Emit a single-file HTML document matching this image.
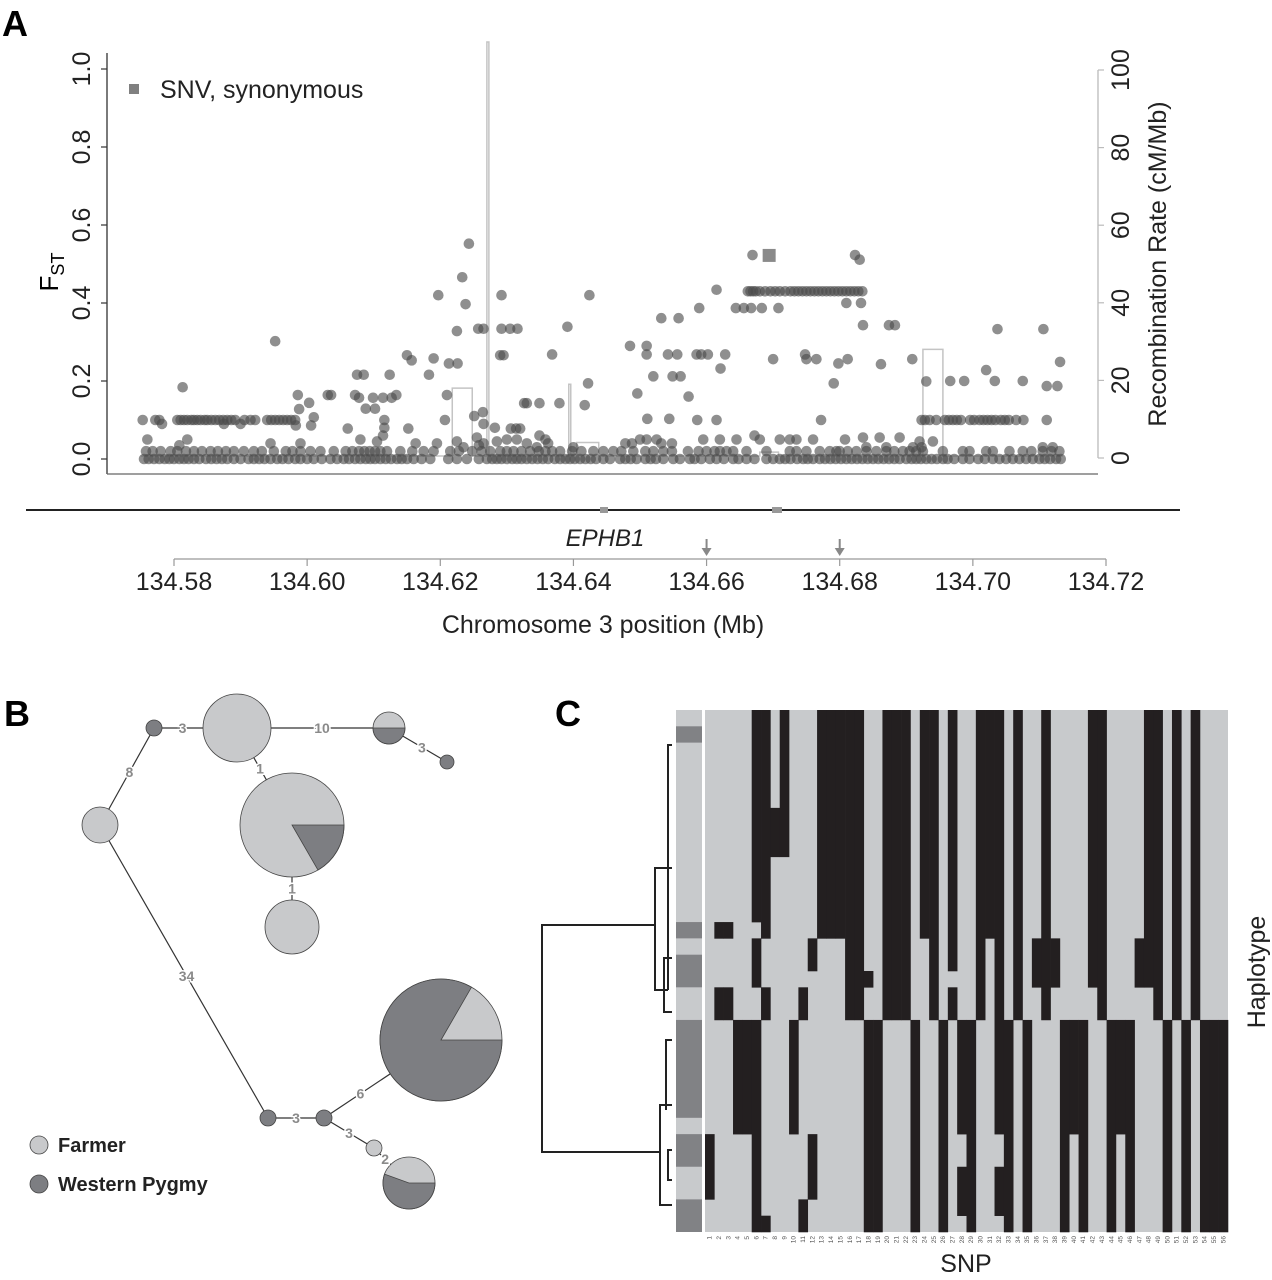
<!DOCTYPE html>
<html><head><meta charset="utf-8"><style>
html,body{margin:0;padding:0;background:#fff;}
svg{display:block;font-family:"Liberation Sans",Arial,sans-serif;}
</style></head><body>
<svg id="fig" width="1272" height="1280" viewBox="0 0 1272 1280" xmlns="http://www.w3.org/2000/svg">
<g id="panelA">
<text x="2" y="36" font-size="36" font-weight="bold">A</text>
<line x1="107" y1="53" x2="107" y2="474" stroke="#333" stroke-width="1.3"/>
<line x1="107" y1="474" x2="1098" y2="474" stroke="#666" stroke-width="1.3"/>
<line x1="1098" y1="70" x2="1098" y2="458" stroke="#bbb" stroke-width="1.3"/>
<text transform="translate(58,272) rotate(-90)" font-size="26" text-anchor="middle">F<tspan font-size="18" dy="6">ST</tspan></text>
<text transform="translate(1166,264) rotate(-90)" font-size="25" text-anchor="middle" fill="#222">Recombination Rate (cM/Mb)</text>
<rect x="129" y="84" width="10" height="10" fill="#808080"/>
<text x="160" y="98" font-size="25" fill="#222">SNV, synonymous</text>
<g id="recLine"></g>
<g id="ptsA"></g>
<g id="ticksA"></g>
<line x1="26" y1="510" x2="1180" y2="510" stroke="#222" stroke-width="2"/>
<rect x="600" y="507" width="8" height="6" fill="#999"/>
<rect x="772" y="507" width="10" height="6" fill="#999"/>
<text x="605" y="546" font-size="24" font-style="italic" text-anchor="middle" fill="#222">EPHB1</text>
<g id="arrowsA"></g>
<line x1="174" y1="559" x2="1106" y2="559" stroke="#999" stroke-width="1.3"/>
<text x="603" y="633" font-size="25" text-anchor="middle" fill="#222">Chromosome 3 position (Mb)</text>
</g>
<g id="panelB">
<text x="4" y="726" font-size="36" font-weight="bold">B</text>
<g id="edgesB"></g>
<g id="nodesB"></g>
<g id="elabB"></g>
<circle cx="39" cy="1145" r="9" fill="#c8c9cb" stroke="#444" stroke-width="0.8"/>
<text x="58" y="1152" font-size="20" font-weight="bold" fill="#222">Farmer</text>
<circle cx="39" cy="1184" r="9" fill="#7d7e82" stroke="#444" stroke-width="0.8"/>
<text x="58" y="1191" font-size="20" font-weight="bold" fill="#222">Western Pygmy</text>
</g>
<g id="panelC">
<text x="555" y="726" font-size="36" font-weight="bold">C</text>
<g id="dendro" stroke="#222" stroke-width="2" fill="none">
<polyline points="655,925 542,925 542,1152 660,1152"/>
<polyline points="668,868 655,868 655,990 668,990"/>
<polyline points="672,745 668,745 668,990"/>
<line x1="668" y1="868" x2="672" y2="868"/>
<polyline points="672,958 664,958 664,1012 672,1012"/>
<polyline points="672,1105 660,1105 660,1205 672,1205"/>
<polyline points="672,1040 666,1040 666,1110"/>
<polyline points="672,1150 668,1150 668,1180 672,1180"/>
</g>
<g id="popBar"></g>
<g id="heat"></g>
<g id="snpLabels"></g>
<text x="966" y="1272" font-size="25" text-anchor="middle" fill="#222">SNP</text>
<text transform="translate(1265,972) rotate(-90)" font-size="25" text-anchor="middle" fill="#222">Haplotype</text>
</g>
</svg>
<script>
// ---------- Panel A data ----------
const xTicksA = [134.58, 134.60, 134.62, 134.64, 134.66, 134.68, 134.70, 134.72];
const fstTicks = [0.0, 0.2, 0.4, 0.6, 0.8, 1.0];
const recTicks = [0, 20, 40, 60, 80, 100];
const arrowPos = [134.66, 134.68];
const base0Pos = [134.5755,134.5762,134.5770,134.5778,134.5786,134.5793,134.5800,134.5808,134.5815,134.5822,134.5830,134.5838,134.5848,134.5856,134.5864,134.5872,134.5880,134.5890,134.5900,134.5912,134.5920,134.5928,134.5936,134.5945,134.5955,134.5963,134.5972,134.5982,134.5990,134.6000,134.6010,134.6022,134.6035,134.6045,134.6055,134.6063,134.6072,134.6080,134.6088,134.6095,134.6102,134.6110,134.6118,134.6126,134.6135,134.6142,134.6150,134.6160,134.6172,134.6185,134.6212,134.6225,134.6240,134.6258,134.6270,134.6278,134.6285,134.6292,134.6300,134.6308,134.6315,134.6322,134.6330,134.6338,134.6346,134.6354,134.6362,134.6372,134.6380,134.6388,134.6395,134.6402,134.6410,134.6418,134.6426,134.6434,134.6445,134.6455,134.6470,134.6478,134.6486,134.6495,134.6508,134.6516,134.6524,134.6535,134.6550,134.6560,134.6575,134.6582,134.6592,134.6605,134.6615,134.6626,134.6640,134.6648,134.6660,134.6672,134.6690,134.6700,134.6710,134.6718,134.6726,134.6736,134.6745,134.6752,134.6760,134.6770,134.6778,134.6786,134.6794,134.6802,134.6810,134.6818,134.6826,134.6834,134.6842,134.6850,134.6858,134.6866,134.6874,134.6882,134.6890,134.6900,134.6908,134.6915,134.6922,134.6930,134.6938,134.6946,134.6955,134.6962,134.6972,134.6985,134.6995,134.7008,134.7018,134.7030,134.7040,134.7050,134.7060,134.7070,134.7080,134.7090,134.7100,134.7108,134.7116,134.7125,134.7132];
const base2Pos = [134.5758,134.5768,134.5780,134.5795,134.5805,134.5818,134.5830,134.5842,134.5855,134.5866,134.5878,134.5890,134.5905,134.5920,134.5932,134.5950,134.5968,134.5978,134.5990,134.6005,134.6020,134.6040,134.6058,134.6068,134.6078,134.6086,134.6094,134.6102,134.6110,134.6120,134.6140,134.6158,134.6175,134.6190,134.6215,134.6228,134.6248,134.6262,134.6275,134.6290,134.6300,134.6310,134.6322,134.6335,134.6348,134.6358,134.6368,134.6380,134.6398,134.6412,134.6430,134.6445,134.6460,134.6472,134.6490,134.6508,134.6520,134.6535,134.6548,134.6572,134.6588,134.6600,134.6612,134.6620,134.6630,134.6640,134.6660,134.6690,134.6725,134.6735,134.6750,134.6770,134.6785,134.6795,134.6800,134.6812,134.6825,134.6840,134.6855,134.6870,134.6882,134.6895,134.6905,134.6915,134.6925,134.6955,134.6985,134.6995,134.7020,134.7030,134.7055,134.7075,134.7088,134.7105,134.7118,134.7130];
const band10Pos = [134.5753,134.5772,134.5778,134.5805,134.5810,134.5815,134.5820,134.5826,134.5830,134.5835,134.5840,134.5846,134.5850,134.5856,134.5862,134.5868,134.5874,134.5880,134.5886,134.5892,134.5906,134.5915,134.5922,134.5940,134.5946,134.5952,134.5958,134.5964,134.5970,134.5976,134.5982,134.6923,134.6928,134.6935,134.6945,134.6958,134.6964,134.6970,134.6976,134.6982,134.6996,134.7002,134.7010,134.7016,134.7022,134.7028,134.7034,134.7042,134.7048,134.7054,134.7065,134.7076,134.7111];
const band43Pos = [134.6662,134.6666,134.6670,134.6674,134.6680,134.6688,134.6696,134.6703,134.6710,134.6718,134.6726,134.6732,134.6738,134.6744,134.6750,134.6756,134.6762,134.6768,134.6774,134.6780,134.6786,134.6792,134.6798,134.6804,134.6810,134.6816,134.6822,134.6828,134.6834];
const otherPos = [134.5760,134.5820,134.5808,134.5945,134.5990,134.6080,134.6105,134.6114,134.6163,134.6195,134.6225,134.6235,134.6255,134.6258,134.6265,134.6285,134.6300,134.6315,134.6330,134.6345,134.6358,134.6362,134.6400,134.6478,134.6488,134.6500,134.6510,134.6525,134.6532,134.6548,134.6595,134.6620,134.6645,134.6672,134.6680,134.6710,134.6725,134.6735,134.6760,134.6808,134.6835,134.6860,134.6890,134.6920,134.6940,134.6923,134.7105,134.7120,
134.5782,134.5875,134.5900,134.5813,134.5952,134.5986,134.5988,134.6003,134.6010,134.5983,134.6006,134.6031,134.6036,134.6072,134.6078,134.6075,134.6085,134.6088,134.6102,134.6099,134.6114,134.6127,134.6134,134.6124,134.6116,134.6116,134.6061,134.6150,134.6157,134.6152,134.6183,134.6190,134.6197,134.6213,134.6226,134.6210,134.6207,134.6225,134.6233,134.6238,134.6243,134.6257,134.6265,134.6251,134.6264,134.6265,134.6292,134.6292,134.6305,134.6316,134.6290,134.6295,134.6282,134.6306,134.6314,134.6320,134.6326,134.6330,134.6349,134.6349,134.6368,134.6379,134.6391,134.6417,134.6422,134.6424,
134.6485,134.6510,134.6510,134.6520,134.6549,134.6561,134.6496,134.6532,134.6558,134.6542,134.6556,134.6573,134.6589,134.6585,134.6592,134.6602,134.6615,134.6621,134.6628,134.6511,134.6544,134.6586,134.6615,134.6644,134.6656,134.6667,134.6683,134.6708,134.6669,134.6810,134.6832,134.6823,134.6830,134.6700,134.6748,134.6750,134.6765,134.6772,134.6791,134.6798,134.6812,134.6835,134.6862,134.6874,134.6883,134.6909,134.6930,134.6966,134.6987,134.7020,134.7033,134.7037,134.7075,134.7106,134.7111,134.7127,134.7131,134.6840,134.6870,134.6910];
const otherFst = [0.05,0.05,0.035,0.04,0.04,0.05,0.045,0.06,0.04,0.04,0.045,0.03,0.055,0.035,0.04,0.045,0.05,0.05,0.04,0.03,0.05,0.04,0.03,0.04,0.04,0.05,0.05,0.05,0.04,0.04,0.05,0.05,0.05,0.06,0.05,0.05,0.05,0.05,0.05,0.05,0.055,0.055,0.055,0.045,0.045,0.03,0.03,0.03,
0.09,0.09,0.09,0.184,0.302,0.164,0.128,0.144,0.107,0.086,0.086,0.164,0.164,0.164,0.157,0.216,0.216,0.129,0.129,0.157,0.157,0.157,0.164,0.216,0.10,0.08,0.078,0.266,0.253,0.078,0.216,0.258,0.42,0.245,0.245,0.164,0.10,0.328,0.466,0.397,0.552,0.334,0.334,0.11,0.12,0.09,0.42,0.334,0.334,0.334,0.266,0.266,0.08,0.078,0.078,0.078,0.143,0.143,0.143,0.06,0.268,0.143,0.339,0.138,0.194,0.42,
0.29,0.29,0.268,0.212,0.212,0.212,0.168,0.361,0.361,0.268,0.268,0.16,0.387,0.268,0.268,0.268,0.434,0.232,0.268,0.103,0.103,0.10,0.10,0.387,0.387,0.387,0.387,0.387,0.523,0.40,0.40,0.523,0.511,0.256,0.268,0.256,0.256,0.10,0.194,0.245,0.256,0.343,0.243,0.343,0.343,0.256,0.199,0.20,0.20,0.228,0.20,0.333,0.20,0.333,0.187,0.187,0.249,0.03,0.03,0.03];
const synPos = [134.6694];
const synFst = [0.522];
const recPos = [134.5750,134.6218,134.6248,134.6270,134.6273,134.6393,134.6396,134.6405,134.6438,134.6680,134.6708,134.6925,134.6955,134.7135];
const recVal = [0.5,18,0.5,110,0.5,19,1,4,0.5,1.5,0.5,28,0.5,0.5];

// ---------- Panel B data ----------
const nodeX = [154,237,389,447,100,292,292,441,268,324,374,409];
const nodeY = [728,728,728,762,825,825,927,1040,1118,1118,1148,1183];
const nodeR = [8,34,16,7,18,52,27,61,8,8,8,26];
const nodeDark0 = [0,0,0,0,0,0,0,0,0,0,0,0];
const nodeDark1 = [360,0,180,360,0,60,0,300,360,360,0,200];
const edgeFrom = [0,1,2,0,1,5,4,8,9,9,10];
const edgeTo = [1,2,3,4,5,6,8,9,10,7,11];
const edgeLabel = ["3","10","3","8","1","1","34","3","3","6","2"];

// ---------- Panel C data ----------
const popDarkRows = [[1,1],[13,13],[15,16],[19,24],[26,27],[30,31]];
const snpBlack = [
[[26,29]],[[13,13],[17,18]],[[13,13],[17,18]],[[19,25]],[[19,25]],
[[0,12],[14,16],[19,31]],[[0,13],[17,18],[31,31]],[[6,8]],[[0,8]],[[19,25]],
[[17,18],[30,31]],[[14,15],[26,29]],[[0,13]],[[0,13]],[[0,13]],
[[0,18]],[[0,18]],[[16,16],[19,31]],[[19,31]],[[0,18]],
[[0,18]],[[0,18]],[[19,31]],[[0,13]],[[0,18]],
[[19,31]],[[0,15],[17,18]],[[19,25],[28,30]],[[19,31]],[[0,18]],
[[0,13]],[[0,25],[28,30]],[[19,31]],[[0,18]],[[19,31]],
[[14,16]],[[0,18]],[[14,16]],[[19,31]],[[19,25]],
[[19,31]],[[0,16]],[[0,18]],[[19,31]],[[19,25]],
[[19,31]],[[14,16]],[[0,16]],[[0,18]],[[19,31]],
[[0,18]],[[19,31]],[[0,18]],[[19,31]],[[19,31]],[[19,31]]];
const nRows = 32;

const NS = "http://www.w3.org/2000/svg";
function mk(tag, attrs, parent){const e=document.createElementNS(NS,tag);for(const k in attrs)e.setAttribute(k,attrs[k]);parent.appendChild(e);return e;}

const xA = p => 174 + (p-134.58)/0.14*932;
const yF = f => 459 - f*390;
const yR = r => Math.max(42, 458 - r*3.88);

const tg = document.getElementById('ticksA');
fstTicks.forEach(t=>{
  const l=mk('line',{x1:101,y1:yF(t),x2:107,y2:yF(t),stroke:'#333','stroke-width':1.2},tg);
  
  
  const tx=mk('text',{transform:`translate(90,${yF(t)}) rotate(-90)`,'font-size':25,'text-anchor':'middle',fill:'#222'},tg);
  tx.textContent=t.toFixed(1);
  
  
});
recTicks.forEach(t=>{
  const l=mk('line',{x1:1098,y1:yR(t),x2:1104,y2:yR(t),stroke:'#bbb','stroke-width':1.2},tg);
  
  
  const tx=mk('text',{transform:`translate(1129,${yR(t)}) rotate(-90)`,'font-size':25,'text-anchor':'middle',fill:'#222'},tg);
  tx.textContent=String(t);
  
  
});
xTicksA.forEach(t=>{
  const l=mk('line',{x1:xA(t),y1:559,x2:xA(t),y2:566,stroke:'#999','stroke-width':1.2},tg);
  
  
  const tx=mk('text',{x:xA(t),y:590,'font-size':25,'text-anchor':'middle',fill:'#222'},tg);
  tx.textContent=t.toFixed(2);
  
  
});
const ag=document.getElementById('arrowsA');
arrowPos.forEach(p=>{
  const x=xA(p);
  const l=mk('line',{x1:x,y1:539,x2:x,y2:551,stroke:'#888','stroke-width':2},ag);
  
  
  const h=mk('polygon',{points:`${x-5},548 ${x+5},548 ${x},556`,fill:'#888'},ag);
  
  
});

let d='';
for(let i=0;i<recPos.length-1;i++){
  const x0=xA(recPos[i]), x1=xA(recPos[i+1]), y=yR(recVal[i]);
  d += (i===0?`M${x0},${y}`:`L${x0},${y}`) + ` L${x1},${y}`;
}
const rl=mk('path',{d:d,fill:'none',stroke:'#c4c4c4','stroke-width':1.5},document.getElementById('recLine'));



const pg=document.getElementById('ptsA');
function dot(p,f){
  const c=mk('circle',{cx:xA(p),cy:yF(f),r:5.3,fill:'#4a4a4a','fill-opacity':0.62},pg);
  
  
}
base0Pos.forEach(p=>dot(p,0));
base2Pos.forEach(p=>dot(p,0.02));
band10Pos.forEach(p=>dot(p,0.10));
band43Pos.forEach(p=>dot(p,0.43));
otherPos.forEach((p,i)=>dot(p,otherFst[i]));
synPos.forEach((p,i)=>{
  const s=mk('rect',{x:xA(p)-6.5,y:yF(synFst[i])-6.5,width:13,height:13,fill:'#8a8a8a'},pg);
  
  
});

const LIGHT='#c8c9cb', DARK='#7d7e82';
const eg=document.getElementById('edgesB'), ng=document.getElementById('nodesB'), lg=document.getElementById('elabB');
edgeFrom.forEach((a,i)=>{
  const b=edgeTo[i];
  const l=mk('line',{x1:nodeX[a],y1:nodeY[a],x2:nodeX[b],y2:nodeY[b],stroke:'#333','stroke-width':1.2},eg);
  
  
  const dx=nodeX[b]-nodeX[a], dy=nodeY[b]-nodeY[a], L=Math.hypot(dx,dy);
  const t=(nodeR[a]+(L-nodeR[a]-nodeR[b])/2)/L;
  const tx=mk('text',{x:nodeX[a]+dx*t,y:nodeY[a]+dy*t+5,'font-size':14,'font-weight':'bold','text-anchor':'middle',fill:'#8a8a8a',stroke:'#fff','stroke-width':3,'paint-order':'stroke'},lg);
  tx.textContent=edgeLabel[i];
  
  
});
nodeX.forEach((cx,i)=>{
  const cy=nodeY[i], r=nodeR[i], a0=nodeDark0[i], a1=nodeDark1[i];
  const full = (a1-a0)>=360;
  const c=mk('circle',{cx:cx,cy:cy,r:r,fill:full?DARK:LIGHT,stroke:'#444','stroke-width':0.8},ng);
  
  
  if(!full && a1>a0){
    const rad=Math.PI/180;
    const x0=cx+r*Math.cos(a0*rad), y0=cy+r*Math.sin(a0*rad);
    const x1=cx+r*Math.cos(a1*rad), y1=cy+r*Math.sin(a1*rad);
    const large=(a1-a0)>180?1:0;
    const s=mk('path',{d:`M${cx},${cy} L${x0},${y0} A${r},${r} 0 ${large} 1 ${x1},${y1} Z`,fill:DARK,stroke:'#444','stroke-width':0.8},ng);
    
    
  }
});

const HX0=705, HX1=1228, HY0=710, HY1=1232;
const cw=(HX1-HX0)/snpBlack.length, rh=(HY1-HY0)/nRows;
const hg=document.getElementById('heat');
const bg=mk('rect',{x:HX0,y:HY0,width:HX1-HX0,height:HY1-HY0,fill:'#c8cacc'},hg);


snpBlack.forEach((ranges,j)=>{
  ranges.forEach(rg=>{
    const r=mk('rect',{x:HX0+j*cw,y:HY0+rg[0]*rh,width:cw+0.3,height:(rg[1]-rg[0]+1)*rh+0.3,fill:'#231f20'},hg);
    
    
  });
});
const pb=document.getElementById('popBar');
const pbg=mk('rect',{x:676,y:HY0,width:26,height:HY1-HY0,fill:'#c8cacc'},pb);


popDarkRows.forEach(rg=>{
  const r=mk('rect',{x:676,y:HY0+rg[0]*rh,width:26,height:(rg[1]-rg[0]+1)*rh,fill:'#818285'},pb);
  
  
});
const sl=document.getElementById('snpLabels');
snpBlack.forEach((_,j)=>{
  const x=HX0+(j+0.5)*cw;
  const t=mk('text',{transform:`translate(${x+2},${1236}) rotate(-90)`,'font-size':6.5,'text-anchor':'end',fill:'#555'},sl);
  t.textContent=String(j+1);
  
  
});
</script>
</body></html>
